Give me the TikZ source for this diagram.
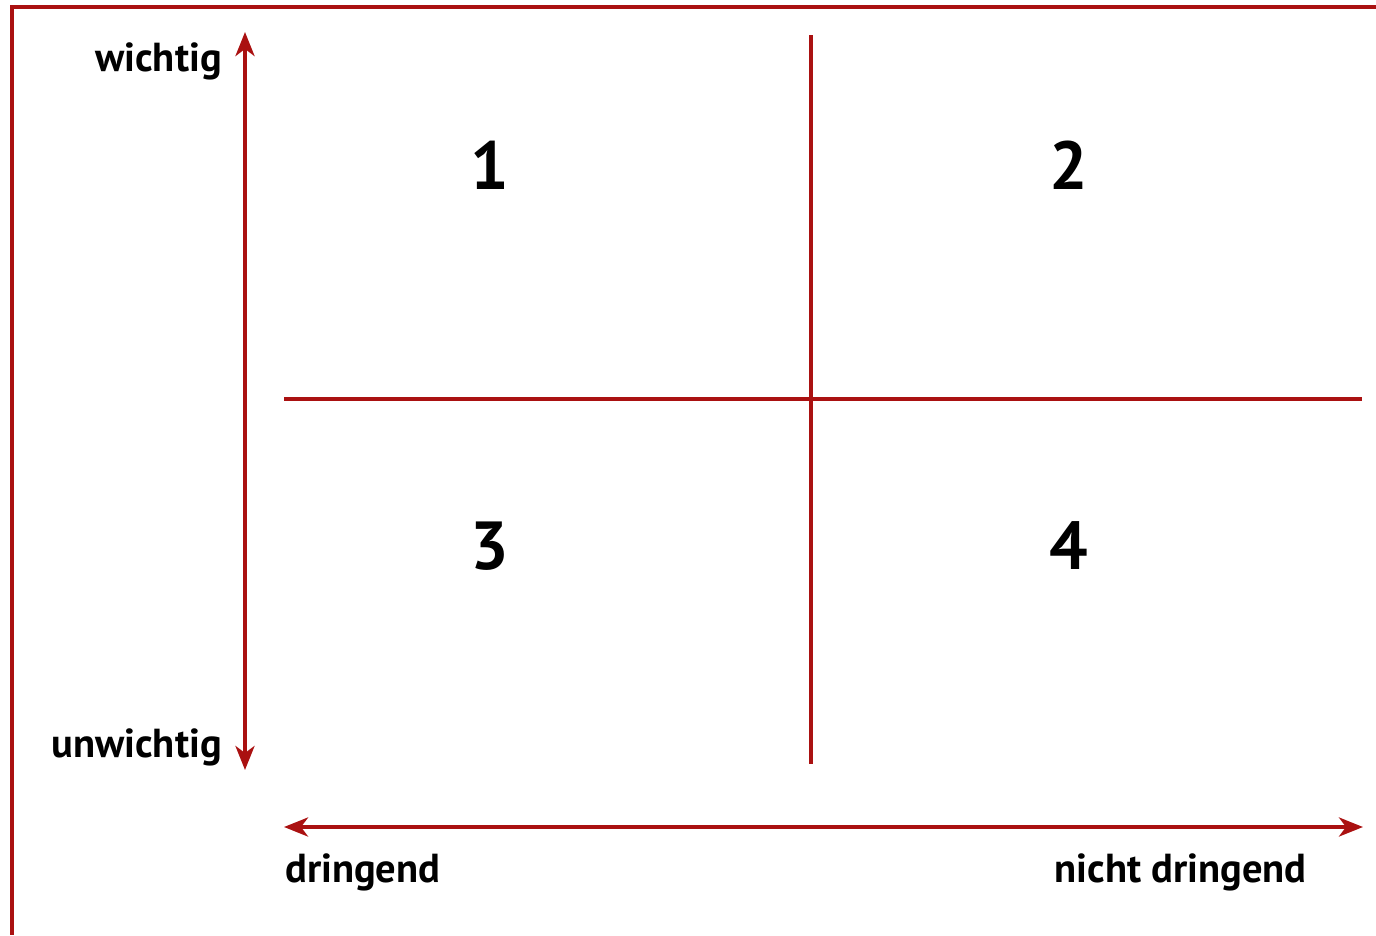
\documentclass[tikz,border=0pt]{standalone}
\usepackage{fontspec}
\setmainfont{PT Sans}
\usetikzlibrary{arrows.meta}
\definecolor{axred}{RGB}{170,17,17}
\tikzset{
  redline/.style={draw=axred, line width=4pt},
  axarrow/.style={redline, {Stealth[length=24pt,width=19pt,inset=7pt]}-{Stealth[length=24pt,width=19pt,inset=7pt]}},
  axlabel/.style={font=\bfseries\fontsize{40.5}{44}\selectfont, text=black, inner sep=0pt},
  quad/.style={font=\bfseries\fontsize{68}{72}\selectfont, text=black, inner sep=0pt}
}
\begin{document}
\begin{tikzpicture}[x=1pt,y=-1pt]
\useasboundingbox (0,0) rectangle (1376,935);
% frame
\coordinate (fTR) at (1376,7);
\coordinate (fTL) at (12,7);
\coordinate (fBL) at (12,935);
\draw[redline] (fTR) -- (fTL) -- (fBL);
% vertical axis
\coordinate (vTop) at (245,32);
\coordinate (vBot) at (245,770);
\draw[axarrow] (vBot) -- (vTop);
% horizontal axis
\coordinate (hL) at (284,827);
\coordinate (hR) at (1363,827);
\draw[axarrow] (hL) -- (hR);
% dividers
\coordinate (dT) at (811,35);
\coordinate (dB) at (811,764);
\coordinate (dL) at (284,399);
\coordinate (dR) at (1362,399);
\draw[redline, line width=3.5pt] (dT) -- (dB);
\draw[redline, line width=3.5pt] (dL) -- (dR);
% labels
\node[axlabel, anchor=base east] (wichtig) at (222,71) {wichtig};
\node[axlabel, anchor=base east] (unwichtig) at (222,757) {unwichtig};
\node[axlabel, anchor=base west] (dringend) at (285,882) {dringend};
\node[axlabel, anchor=base east] (nicht) at (1307,882) {nicht dringend};
% quadrants
\node[quad, anchor=base] (q1) at (490,189) {1};
\node[quad, anchor=base] (q2) at (1069,189) {2};
\node[quad, anchor=base] (q3) at (490,569) {3};
\node[quad, anchor=base] (q4) at (1069,569) {4};
\end{tikzpicture}
\end{document}
